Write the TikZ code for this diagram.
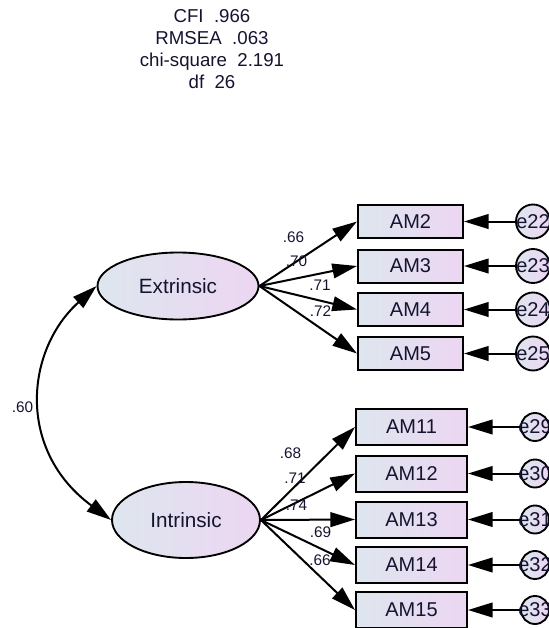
\documentclass[tikz,border=0pt]{standalone}
\usepackage{fontspec}
\setmainfont{Liberation Sans}
\usepackage{xcolor}
\usetikzlibrary{arrows.meta,shapes.geometric}

\definecolor{amosblue}{RGB}{222,230,238}
\definecolor{amoslilac}{RGB}{236,214,242}
\definecolor{amosink}{RGB}{20,20,48}

\begin{document}
\begin{tikzpicture}[x=0.75pt,y=0.75pt,yscale=-1,xscale=1,
  latent/.style={ellipse, draw, line width=1.4pt, left color=amosblue, right color=amoslilac, text=amosink, inner sep=0pt, font=\fontsize{15.5}{18}\selectfont},
  obsbox/.style={rectangle, draw, line width=1.5pt, left color=amosblue, right color=amoslilac, text=amosink, inner sep=0pt, font=\fontsize{15}{18}\selectfont},
  errc/.style={circle, draw, line width=1.4pt, left color=amosblue, right color=amoslilac, inner sep=0pt},
  errtxt/.style={text=amosink, inner sep=0pt, font=\fontsize{15}{18}\selectfont},
  coef/.style={text=amosink, inner sep=0pt, font=\fontsize{11.5}{13}\selectfont},
  path/.style={line width=1.5pt, -{Triangle[length=18.5pt,width=11pt]}},
  corr/.style={line width=1.5pt, {Triangle[length=18.5pt,width=11pt]}-{Triangle[length=18.5pt,width=11pt]}}
]
\useasboundingbox (0,0) rectangle (549,628);
\clip (0,0) rectangle (549,628);

% Text Node
\node [text=amosink, inner sep=0pt, align=center, font=\fontsize{14}{16.3}\selectfont] (fit) at (212,49) {CFI\ \ .966\\RMSEA\ \ .063\\chi-square\ \ 2.191\\df\ \ 26};

%Shape: Ellipse
\node [latent, minimum width=120.75pt, minimum height=50.25pt] (ext) at (178,286) {Extrinsic};
%Shape: Ellipse
\node [latent, minimum width=111pt, minimum height=57pt] (int) at (186,520) {Intrinsic};

%Shape: Rectangle
\node [obsbox, minimum width=78.75pt, minimum height=24.75pt] (am2) at (410.5,221.5) {AM2};
\node [obsbox, minimum width=78.75pt, minimum height=24.75pt] (am3) at (410.5,266) {AM3};
\node [obsbox, minimum width=78.75pt, minimum height=24.75pt] (am4) at (410.5,309.5) {AM4};
\node [obsbox, minimum width=78.75pt, minimum height=24.75pt] (am5) at (410.5,353.5) {AM5};
%Shape: Rectangle
\node [obsbox, minimum width=83.25pt, minimum height=27pt] (am11) at (411.5,427) {AM11};
\node [obsbox, minimum width=83.25pt, minimum height=27pt] (am12) at (411.5,473.5) {AM12};
\node [obsbox, minimum width=83.25pt, minimum height=27pt] (am13) at (411.5,519.5) {AM13};
\node [obsbox, minimum width=83.25pt, minimum height=27pt] (am14) at (411.5,565) {AM14};
\node [obsbox, minimum width=83.25pt, minimum height=27pt] (am15) at (411.5,610) {AM15};

%Shape: Circle
\node [errc, minimum size=25.5pt] (e22) at (533,221.5) {};
\node [errc, minimum size=25.5pt] (e23) at (533,266) {};
\node [errc, minimum size=25.5pt] (e24) at (533,309.5) {};
\node [errc, minimum size=25.5pt] (e25) at (533,353.5) {};
\node [errc, minimum size=21pt] (e29) at (535,427) {};
\node [errc, minimum size=21pt] (e30) at (535,473.5) {};
\node [errc, minimum size=21pt] (e31) at (535,519.5) {};
\node [errc, minimum size=21pt] (e32) at (535,565) {};
\node [errc, minimum size=21pt] (e33) at (535,610) {};

% Text Node
\node [errtxt] (te22) at (e22) {e22};
\node [errtxt] (te23) at (e23) {e23};
\node [errtxt] (te24) at (e24) {e24};
\node [errtxt] (te25) at (e25) {e25};
\node [errtxt] (te29) at (e29) {e29};
\node [errtxt] (te30) at (e30) {e30};
\node [errtxt] (te31) at (e31) {e31};
\node [errtxt] (te32) at (e32) {e32};
\node [errtxt] (te33) at (e33) {e33};

%Straight Lines
\draw [path] (ext.east) -- (am2.west);
\draw [path] (ext.east) -- (am3.west);
\draw [path] (ext.east) -- (am4.west);
\draw [path] (ext.east) -- (am5.west);
\draw [path] (int.east) -- (am11.west);
\draw [path] (int.east) -- (am12.west);
\draw [path] (int.east) -- (am13.west);
\draw [path] (int.east) -- (am14.west);
\draw [path] (int.east) -- (am15.west);

%Straight Lines
\draw [path] (e22) -- (am2.east);
\draw [path] (e23) -- (am3.east);
\draw [path] (e24) -- (am4.east);
\draw [path] (e25) -- (am5.east);
\draw [path] (e29) -- (am11.east);
\draw [path] (e30) -- (am12.east);
\draw [path] (e31) -- (am13.east);
\draw [path] (e32) -- (am14.east);
\draw [path] (e33) -- (am15.east);

%Curve Lines
\draw [corr] (ext.west) .. controls +(-71,64) and +(-95,-70) .. (int.west);

% Text Node
\node [coef] (c66) at (293.5,237) {.66};
\node [coef] (c70) at (296.5,261) {.70};
\node [coef] (c71) at (320,285) {.71};
\node [coef] (c72) at (320.5,311) {.72};
% Text Node
\node [coef] (c68) at (290.5,453) {.68};
\node [coef] (c71b) at (295,478) {.71};
\node [coef] (c74) at (296.5,505) {.74};
\node [coef] (c69) at (320.5,532) {.69};
\node [coef] (c66b) at (320,560) {.66};
% Text Node
\node [coef] (c60) at (22.5,407) {.60};

\end{tikzpicture}
\end{document}
